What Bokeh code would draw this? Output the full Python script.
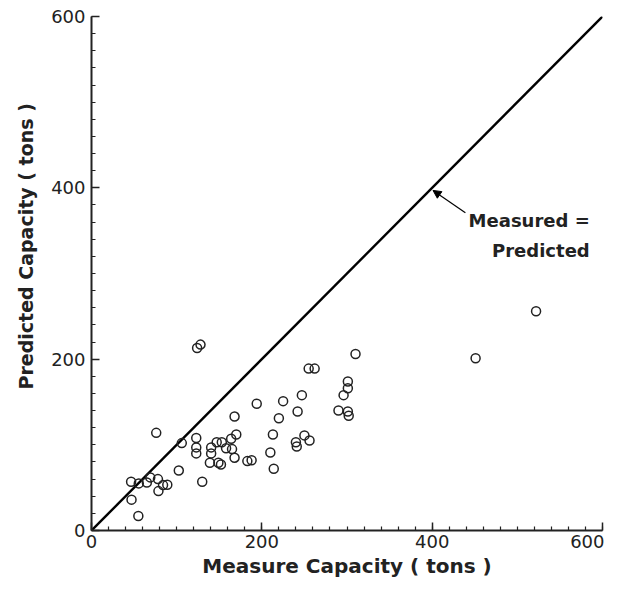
from bokeh.plotting import figure
from bokeh.models import Range1d, FixedTicker, Arrow, NormalHead, Label, Title
from bokeh.embed import file_html
from bokeh.resources import INLINE

# Measured vs predicted capacity (tons)
measured = [46.5, 55.5, 65, 69, 78, 84, 89, 78.6, 47, 55,
            76, 102.5, 106, 124, 128, 123, 123, 123, 130, 140.5,
            140.5, 139, 147, 153, 149, 152, 158, 164, 170, 165,
            168, 168, 183, 188, 194, 213, 210, 214, 220, 225,
            242, 247, 240, 241, 250, 256, 255, 262, 290, 296,
            301, 301, 301, 302, 310, 451, 522]
predicted = [57, 55, 56, 62, 60, 53, 53.5, 46, 36, 17,
             114, 70, 102, 213, 217, 108, 97, 90, 57, 97,
             90, 79, 103, 103, 79, 77, 96, 107, 112, 95,
             85, 133, 81, 82, 148, 112, 91, 72, 131, 151,
             139, 158, 103, 98, 111, 105, 189, 189, 140, 158,
             166, 174, 139, 134, 206, 201, 256]

equality_line = [0, 600]
major_ticks = [0, 200, 400, 600]

FONT = "DejaVu Sans"
INK = "#222222"

p = figure(width=604, height=584, output_backend="svg", toolbar_location=None,
           x_range=Range1d(0, 600), y_range=Range1d(0, 600),
           min_border_left=91, min_border_right=2, min_border_top=16, min_border_bottom=54)
p.outline_line_color = None
p.grid.visible = False
p.background_fill_color = "white"

p.line(equality_line, equality_line, line_color="black", line_width=2.4)
p.scatter(measured, predicted, marker="circle", size=9, fill_color=None,
          line_color=INK, line_width=1.5)

for ax in (p.xaxis[0], p.yaxis[0]):
    ax.ticker = FixedTicker(ticks=major_ticks, minor_ticks=list(range(0, 601, 20)))
    ax.axis_line_width = 2
    ax.axis_line_color = INK
    ax.major_tick_in = 8
    ax.major_tick_out = 0
    ax.minor_tick_in = 4
    ax.minor_tick_out = 0
    ax.major_tick_line_width = 1.5
    ax.minor_tick_line_width = 1.2
    ax.major_tick_line_color = INK
    ax.minor_tick_line_color = INK
    ax.major_label_text_font = FONT
    ax.major_label_text_font_size = "18px"
    ax.major_label_text_color = INK
    ax.axis_label_text_font = FONT
    ax.axis_label_text_font_style = "bold"
    ax.axis_label_text_color = INK

p.xaxis.axis_label = "Measure Capacity ( tons )"
p.xaxis.axis_label_text_font_size = "20px"
p.xaxis.major_label_standoff = 4
p.xaxis.axis_label_standoff = 3

p.yaxis.major_label_standoff = 6
p.yaxis.major_label_orientation = "horizontal"

# y-axis title, placed (as in the reference) a little above the frame centre
p.add_layout(Title(text="Predicted Capacity ( tons )", align="left", offset=141,
                   text_font=FONT, text_font_style="bold", text_font_size="19px",
                   text_color=INK, standoff=23), "left")

p.add_layout(Arrow(end=NormalHead(size=8, fill_color="black", line_color="black"),
                   x_start=439, y_start=371, x_end=401, y_end=397,
                   line_width=1.2, line_color="black"))
p.add_layout(Label(x=585, y=362, text="Measured =", text_align="right",
                   text_baseline="middle", text_font=FONT, text_font_style="bold",
                   text_font_size="18px", text_color=INK))
p.add_layout(Label(x=585, y=327, text="Predicted", text_align="right",
                   text_baseline="middle", text_font=FONT, text_font_style="bold",
                   text_font_size="18px", text_color=INK))

open("out.html", "w").write(file_html(p, INLINE))
